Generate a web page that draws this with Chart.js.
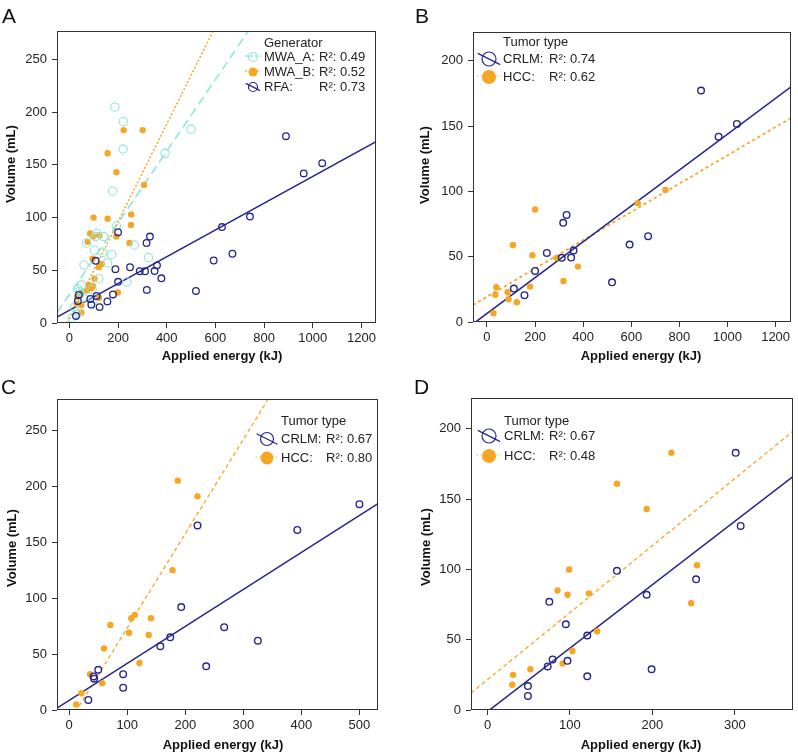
<!DOCTYPE html>
<html>
<head>
<meta charset="utf-8">
<script src="https://cdn.jsdelivr.net/npm/chart.js@4.4.1/dist/chart.umd.min.js"></script>
<style>
    body { margin: 0; background: #fff; width: 798px; height: 753px; position: relative; overflow: hidden;
           font-family: "Liberation Sans", Arial, sans-serif; }
    .panel { position: absolute; width: 399px; }
    .tag { position: absolute; font-size: 21px; line-height: 21px; color: #111; }
</style>
</head>
<body>
<div class="panel" style="left:0;top:0;height:376px"><canvas id="chart-a"></canvas></div>
<div class="panel" style="left:399px;top:0;height:376px"><canvas id="chart-b"></canvas></div>
<div class="panel" style="left:0;top:376px;height:377px"><canvas id="chart-c"></canvas></div>
<div class="panel" style="left:399px;top:376px;height:377px"><canvas id="chart-d"></canvas></div>
<div class="tag" style="left:2px;top:5px">A</div>
<div class="tag" style="left:415px;top:5px">B</div>
<div class="tag" style="left:1px;top:376px">C</div>
<div class="tag" style="left:414px;top:376px">D</div>
<script>
// ---- data (kJ / mL) ----
// RFA (panel B), by tumor type
const rfaCrlmX = [112, 156, 200, 249, 311, 317, 331, 350, 360, 520, 593, 670, 890, 963, 1039];
const rfaCrlmY = [25.6, 20.5, 39.1, 52.9, 49.1, 75.9, 82, 49.3, 54.7, 30.4, 59.3, 65.7, 177.2, 141.9, 151.6];
const rfaHccX = [27, 35, 39, 86, 90, 108, 124, 179, 189, 200, 289, 318, 378, 627, 742];
const rfaHccY = [6.7, 20.9, 26.6, 22.8, 17.4, 59, 15.1, 27.1, 51.1, 86.1, 49.1, 31.4, 42.4, 91, 101];

// MWA generator A (panel C)
const mwaACrlmX = [33, 42, 43, 50, 93, 93, 157, 174, 193, 221, 236, 267, 325, 393, 500];
const mwaACrlmY = [9, 30, 28, 36, 32, 20, 57, 65, 92, 165, 39, 74, 62, 161, 184];
const mwaAHccX = [12, 21, 36, 57, 60, 71, 103, 107, 113, 121, 137, 141, 178, 187, 221];
const mwaAHccY = [5, 15, 32, 24, 55, 76, 69, 82, 85, 42, 67, 82, 125, 205, 191];

// MWA generator B (panel D)
const mwaBCrlmX = [49, 49, 73, 75, 79, 95, 97, 121, 121, 157, 193, 199, 253, 301, 307];
const mwaBCrlmY = [17, 10, 31, 77, 36, 61, 35, 53, 24, 99, 82, 29, 93, 183, 131];
const mwaBHccX = [30, 31, 52, 85, 91, 97, 99, 103, 123, 133, 157, 193, 223, 247, 254];
const mwaBHccY = [18, 25, 29, 85, 33, 82, 100, 42, 83, 56, 161, 143, 183, 76, 103];

// regression fits: [intercept, slope]
const fitMwaA = [27, 0.34];
const fitMwaB = [3.5, 0.463];
const fitRfa = [12, 0.127];
const fitRfaCrlm = [6.5, 0.1373];
const fitRfaHcc = [19.3, 0.1083];
const fitMwaACrlm = [8.6, 0.3307];
const fitMwaAHcc = [-10.8, 0.842];
const fitMwaBCrlm = [-1.1, 0.4514];
const fitMwaBHcc = [21.6, 0.477];

const generatorNames = ['MWA_A:', 'MWA_B:', 'RFA:'];
const generatorR2 = ['R²: 0.49', 'R²: 0.52', 'R²: 0.73'];
const tumorNames = ['CRLM:', 'HCC:'];
const tumorR2B = ['R²: 0.74', 'R²: 0.62'];
const tumorR2C = ['R²: 0.67', 'R²: 0.80'];
const tumorR2D = ['R²: 0.67', 'R²: 0.48'];

// axis ranges and ticks
const xRangeA = [-51, 1260], yRangeA = [0, 277];
const xRangeB = [-58, 1264], yRangeB = [0, 222];
const xRangeC = [-21, 532], yRangeC = [0, 278];
const xRangeD = [-20, 370], yRangeD = [0, 222];
const xTicksAB = [0, 200, 400, 600, 800, 1000, 1200];
const xTicksC = [0, 100, 200, 300, 400, 500];
const xTicksD = [0, 100, 200, 300];
const yTicks250 = [0, 50, 100, 150, 200, 250];
const yTicks200 = [0, 50, 100, 150, 200];

// ---- styling ----
Chart.defaults.font.family = '"Liberation Sans", Arial, sans-serif';
Chart.defaults.font.size = 13;
Chart.defaults.color = '#222';

const NAVY = '#25258f';
const ORANGE = '#f6a624';
const CYAN = '#8fe6dc';

function pts(xs, ys) {
    return xs.map((x, i) => ({x: x, y: ys[i]}));
}

function fitLine(fit, range) {
    return range.map(x => ({x: x, y: fit[0] + fit[1] * x}));
}

function openPts(label, data, color, r, bw) {
    return { label: label, data: data, borderColor: color, backgroundColor: 'rgba(0,0,0,0)',
             pointRadius: r, borderWidth: bw, order: 1 };
}
function dotPts(label, data, color, r) {
    return { label: label, data: data, borderColor: color, backgroundColor: color,
             pointRadius: r, borderWidth: 0, order: 2 };
}
function line(label, data, color, width, dash) {
    return { label: label, data: data, showLine: true, pointRadius: 0, borderColor: color,
             borderWidth: width, borderDash: dash || [], order: 5 };
}

function axis(range, ticks, size, isX) {
    return {
        type: 'linear',
        min: range[0],
        max: range[1],
        afterBuildTicks: (s) => { s.ticks = ticks.map(v => ({value: v})); },
        afterFit: (s) => { if (isX) s.height = size; else s.width = size; },
        grid: { drawOnChartArea: false, drawTicks: true, tickLength: 5, color: '#333' },
        border: { display: false },
        ticks: { padding: isX ? 3 : 5, color: '#222', callback: (v) => String(v) }
    };
}

// frame, axis titles and legend
const decor = {
    id: 'decor',
    afterDraw(chart) {
        const o = chart.options.plugins.decor;
        const ctx = chart.ctx;
        const a = chart.chartArea;
        ctx.save();
        ctx.strokeStyle = '#333';
        ctx.lineWidth = 1;
        const l = Math.round(a.left) + 0.5, t = Math.round(a.top) + 0.5;
        const r = Math.round(a.right) - 0.5, b = Math.round(a.bottom) - 0.5;
        ctx.strokeRect(l, t, r - l, b - t);

        ctx.fillStyle = '#111';
        ctx.font = 'bold 13px "Liberation Sans", Arial, sans-serif';
        ctx.textAlign = 'center';
        ctx.textBaseline = 'middle';
        ctx.fillText('Applied energy (kJ)', o.xTitle[0], o.xTitle[1]);
        ctx.save();
        ctx.translate(o.yTitle[0], o.yTitle[1]);
        ctx.rotate(-Math.PI / 2);
        ctx.fillText('Volume (mL)', 0, 0);
        ctx.restore();

        const lg = o.legend;
        ctx.font = '13px "Liberation Sans", Arial, sans-serif';
        ctx.fillStyle = '#222';
        ctx.textAlign = 'left';
        ctx.fillText(lg.title, lg.textX, lg.titleY);
        lg.items.forEach((it, i) => {
            const y = lg.rows[i], x = lg.markX;
            ctx.save();
            ctx.strokeStyle = it.color;
            ctx.lineWidth = it.lw;
            ctx.setLineDash(it.dash || []);
            ctx.globalAlpha = it.alpha || 1;
            ctx.beginPath();
            if (it.diag) {
                ctx.moveTo(x - lg.r * 1.6, y - lg.r * 0.8);
                ctx.lineTo(x + lg.r * 1.6, y + lg.r * 0.8);
            } else {
                ctx.moveTo(x - lg.r * 1.8, y - 1);
                ctx.lineTo(x + lg.r * 1.8, y - 1);
            }
            ctx.stroke();
            ctx.restore();
            ctx.beginPath();
            ctx.arc(x, y, lg.r, 0, Math.PI * 2);
            if (it.filled) {
                ctx.fillStyle = it.color;
                ctx.fill();
            } else {
                ctx.strokeStyle = it.color;
                ctx.lineWidth = it.markLw || 1.2;
                ctx.stroke();
            }
            ctx.fillStyle = '#222';
            ctx.fillText(it.name, lg.textX, y);
            ctx.fillText(it.r2, lg.r2X, y);
        });
        ctx.restore();
    }
};

function makePanel(id, area, h, xAxis, yAxis, datasets, decorOpts) {
    const w = 399;
    return new Chart(document.getElementById(id), {
        type: 'scatter',
        data: { datasets: datasets },
        options: {
            responsive: true,
            maintainAspectRatio: false,
            animation: false,
            events: [],
            layout: { padding: { left: 0, top: area[1], right: w - area[2], bottom: 0 } },
            scales: {
                x: axis(xAxis[0], xAxis[1], h - area[3], true),
                y: axis(yAxis[0], yAxis[1], area[0], false)
            },
            plugins: {
                legend: { display: false },
                tooltip: { enabled: false },
                decor: decorOpts
            }
        },
        plugins: [decor]
    });
}

// ---- A: all ablations by generator ----
const mwaAAll = pts(mwaACrlmX.concat(mwaAHccX), mwaACrlmY.concat(mwaAHccY));
const mwaBAll = pts(mwaBCrlmX.concat(mwaBHccX), mwaBCrlmY.concat(mwaBHccY));
const rfaAll = pts(rfaCrlmX.concat(rfaHccX), rfaCrlmY.concat(rfaHccY));

makePanel('chart-a', [57, 31, 376, 323], 376, [xRangeA, xTicksAB], [yRangeA, yTicks250], [
    openPts('RFA', rfaAll, NAVY, 3.3, 1.3),
    dotPts('MWA_B', mwaBAll, ORANGE, 3.2),
    openPts('MWA_A', mwaAAll, CYAN, 4.2, 1.1),
    line('RFA fit', fitLine(fitRfa, xRangeA), NAVY, 1.5),
    line('MWA_B fit', fitLine(fitMwaB, xRangeA), ORANGE, 1.5, [2, 2]),
    line('MWA_A fit', fitLine(fitMwaA, xRangeA), CYAN, 1.6, [9, 5])
], {
    xTitle: [222, 356], yTitle: [11, 164],
    legend: { title: 'Generator', titleY: 43, rows: [57, 72, 87], markX: 253, r: 4.5, textX: 264, r2X: 319,
        items: [
            { name: generatorNames[0], r2: generatorR2[0], color: CYAN, lw: 1.3, dash: [3, 2] },
            { name: generatorNames[1], r2: generatorR2[1], color: ORANGE, lw: 1.3, dash: [2, 2], filled: true },
            { name: generatorNames[2], r2: generatorR2[2], color: NAVY, lw: 1.2, diag: true }
        ] }
});

// ---- B: RFA by tumor type ----
makePanel('chart-b', [74, 32, 392, 322], 376, [xRangeB, xTicksAB], [yRangeB, yTicks200], [
    openPts('CRLM', pts(rfaCrlmX, rfaCrlmY), NAVY, 3.3, 1.4),
    dotPts('HCC', pts(rfaHccX, rfaHccY), ORANGE, 3.2),
    line('CRLM fit', fitLine(fitRfaCrlm, xRangeB), NAVY, 1.6),
    line('HCC fit', fitLine(fitRfaHcc, xRangeB), ORANGE, 1.8, [3, 3])
], {
    xTitle: [242, 356], yTitle: [26, 165],
    legend: { title: 'Tumor type', titleY: 42, rows: [59, 77], markX: 90, r: 7, textX: 104, r2X: 150,
        items: [
            { name: tumorNames[0], r2: tumorR2B[0], color: NAVY, lw: 1.2, diag: true },
            { name: tumorNames[1], r2: tumorR2B[1], color: ORANGE, lw: 1.2, dash: [2, 2], filled: true, alpha: 0.6 }
        ] }
});

// ---- C: MWA generator A by tumor type ----
makePanel('chart-c', [57, 23, 378, 334], 377, [xRangeC, xTicksC], [yRangeC, yTicks250], [
    openPts('CRLM', pts(mwaACrlmX, mwaACrlmY), NAVY, 3.3, 1.4),
    dotPts('HCC', pts(mwaAHccX, mwaAHccY), ORANGE, 3.2),
    line('CRLM fit', fitLine(fitMwaACrlm, xRangeC), NAVY, 1.5),
    line('HCC fit', fitLine(fitMwaAHcc, xRangeC), ORANGE, 1.3, [4, 3])
], {
    xTitle: [223, 369], yTitle: [12, 172],
    legend: { title: 'Tumor type', titleY: 45, rows: [63, 82], markX: 267, r: 6.5, textX: 281, r2X: 326,
        items: [
            { name: tumorNames[0], r2: tumorR2C[0], color: NAVY, lw: 1.2, diag: true },
            { name: tumorNames[1], r2: tumorR2C[1], color: ORANGE, lw: 1.2, dash: [2, 2], filled: true, alpha: 0.6 }
        ] }
});

// ---- D: MWA generator B by tumor type ----
makePanel('chart-d', [72, 22, 396, 334], 377, [xRangeD, xTicksD], [yRangeD, yTicks200], [
    openPts('CRLM', pts(mwaBCrlmX, mwaBCrlmY), NAVY, 3.3, 1.4),
    dotPts('HCC', pts(mwaBHccX, mwaBHccY), ORANGE, 3.2),
    line('CRLM fit', fitLine(fitMwaBCrlm, xRangeD), NAVY, 1.5),
    line('HCC fit', fitLine(fitMwaBHcc, xRangeD), ORANGE, 1.3, [4, 3])
], {
    xTitle: [242, 369], yTitle: [27, 171],
    legend: { title: 'Tumor type', titleY: 45, rows: [60, 80], markX: 90, r: 7, textX: 105, r2X: 150,
        items: [
            { name: tumorNames[0], r2: tumorR2D[0], color: NAVY, lw: 1.2, diag: true },
            { name: tumorNames[1], r2: tumorR2D[1], color: ORANGE, lw: 1.2, dash: [2, 2], filled: true, alpha: 0.6 }
        ] }
});
</script>
</body>
</html>
